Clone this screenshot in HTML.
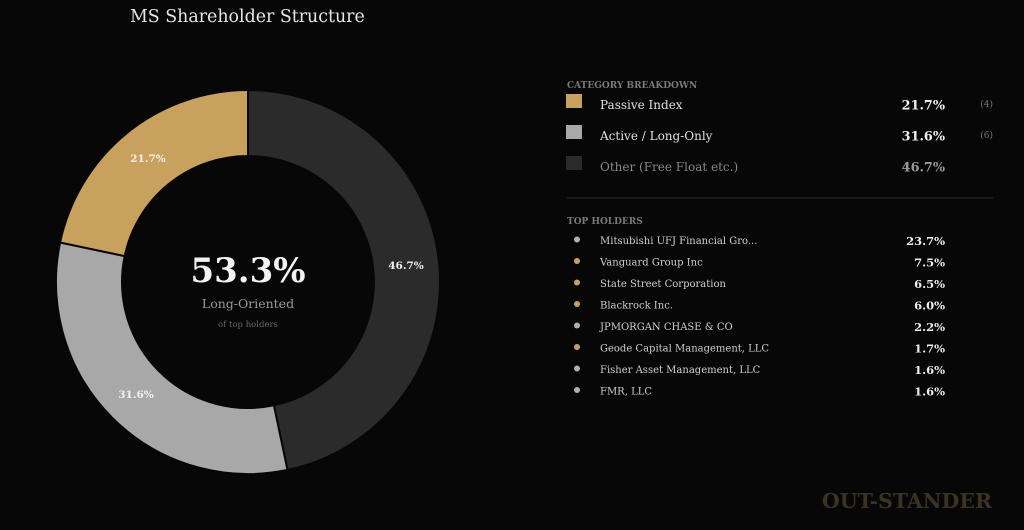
<!DOCTYPE html>
<html><head><style>
html,body{margin:0;padding:0;background:#070707;}
svg{display:block;font-family:"DejaVu Serif","Liberation Serif",serif;}
</style></head><body>
<svg width="1024" height="530" viewBox="0 0 1024 530">
<rect width="1024" height="530" fill="#070707"/>
<text x="130" y="22" font-size="17.4" fill="#e6e6e6">MS  Shareholder Structure</text>
<g stroke="#070707" stroke-width="2">
<path d="M248,90 A192,192 0 0 1 287.5,469.9 L273.9,405.3 A126,126 0 0 0 248,156 Z" fill="#2b2b2b"/>
<path d="M287.5,469.9 A192,192 0 0 1 60.1,242.5 L124.7,256.1 A126,126 0 0 0 273.9,405.3 Z" fill="#a8a8a8"/>
<path d="M60.1,242.5 A192,192 0 0 1 248,90 L248,156 A126,126 0 0 0 124.7,256.1 Z" fill="#c8a25c"/>
</g>
<g font-size="10.5" font-weight="bold" fill="#f0f0f0" text-anchor="middle">
<text x="406" y="269">46.7%</text>
<text x="136" y="398">31.6%</text>
<text x="148" y="162">21.7%</text>
</g>
<text x="248" y="282" font-size="34" font-weight="bold" fill="#f2f2f2" text-anchor="middle">53.3%</text>
<text x="248" y="308" font-size="12.5" fill="#9a9a9a" text-anchor="middle">Long-Oriented</text>
<text x="248" y="327" font-size="8.5" fill="#666" text-anchor="middle">of top holders</text>

<text x="567" y="88" font-size="9" font-weight="bold" fill="#7a7a7a">CATEGORY BREAKDOWN</text>
<rect x="566" y="94" width="16" height="14" fill="#c8a25c"/>
<rect x="566" y="125" width="16" height="14" fill="#a8a8a8"/>
<rect x="566" y="156" width="16" height="14" fill="#2b2b2b"/>
<g font-size="12">
<text x="600" y="109" fill="#e0e0e0">Passive Index</text>
<text x="600" y="140" fill="#e0e0e0">Active / Long-Only</text>
<text x="600" y="171" fill="#888">Other (Free Float etc.)</text>
</g>
<g font-size="12.8" font-weight="bold" text-anchor="end">
<text x="945" y="109.5" fill="#f0f0f0">21.7%</text>
<text x="945" y="140.5" fill="#f0f0f0">31.6%</text>
<text x="945" y="171.5" fill="#999">46.7%</text>
</g>
<g font-size="9" fill="#777" text-anchor="end">
<text x="993" y="107">(4)</text>
<text x="993" y="138">(6)</text>
</g>
<line x1="567" y1="198" x2="993" y2="198" stroke="#2a2a2a" stroke-width="1"/>
<text x="567" y="224" font-size="9" font-weight="bold" fill="#7a7a7a">TOP HOLDERS</text>
<g font-size="10" fill="#cfcfcf">
<circle cx="577" cy="239.5" r="3" fill="#b0b0b0"/><text x="600" y="244">Mitsubishi UFJ Financial Gro...</text>
<circle cx="577" cy="261" r="3" fill="#c8a25c"/><text x="600" y="265.5">Vanguard Group Inc</text>
<circle cx="577" cy="282.5" r="3" fill="#c8a25c"/><text x="600" y="287">State Street Corporation</text>
<circle cx="577" cy="304" r="3" fill="#c8a25c"/><text x="600" y="308.5">Blackrock Inc.</text>
<circle cx="577" cy="325.5" r="3" fill="#b0b0b0"/><text x="600" y="330">JPMORGAN CHASE &amp; CO</text>
<circle cx="577" cy="347" r="3" fill="#c8a25c"/><text x="600" y="351.5">Geode Capital Management, LLC</text>
<circle cx="577" cy="368.5" r="3" fill="#b0b0b0"/><text x="600" y="373">Fisher Asset Management, LLC</text>
<circle cx="577" cy="390" r="3" fill="#b0b0b0"/><text x="600" y="394.5">FMR, LLC</text>
</g>
<g font-size="11.5" font-weight="bold" fill="#eeeeee" text-anchor="end">
<text x="945" y="245">23.7%</text>
<text x="945" y="266.5">7.5%</text>
<text x="945" y="288">6.5%</text>
<text x="945" y="309.5">6.0%</text>
<text x="945" y="331">2.2%</text>
<text x="945" y="352.5">1.7%</text>
<text x="945" y="374">1.6%</text>
<text x="945" y="395.5">1.6%</text>
</g>
<text x="992" y="508" font-size="20.5" font-weight="bold" fill="#3b3222" text-anchor="end">OUT-STANDER</text>
</svg>
</body></html>
